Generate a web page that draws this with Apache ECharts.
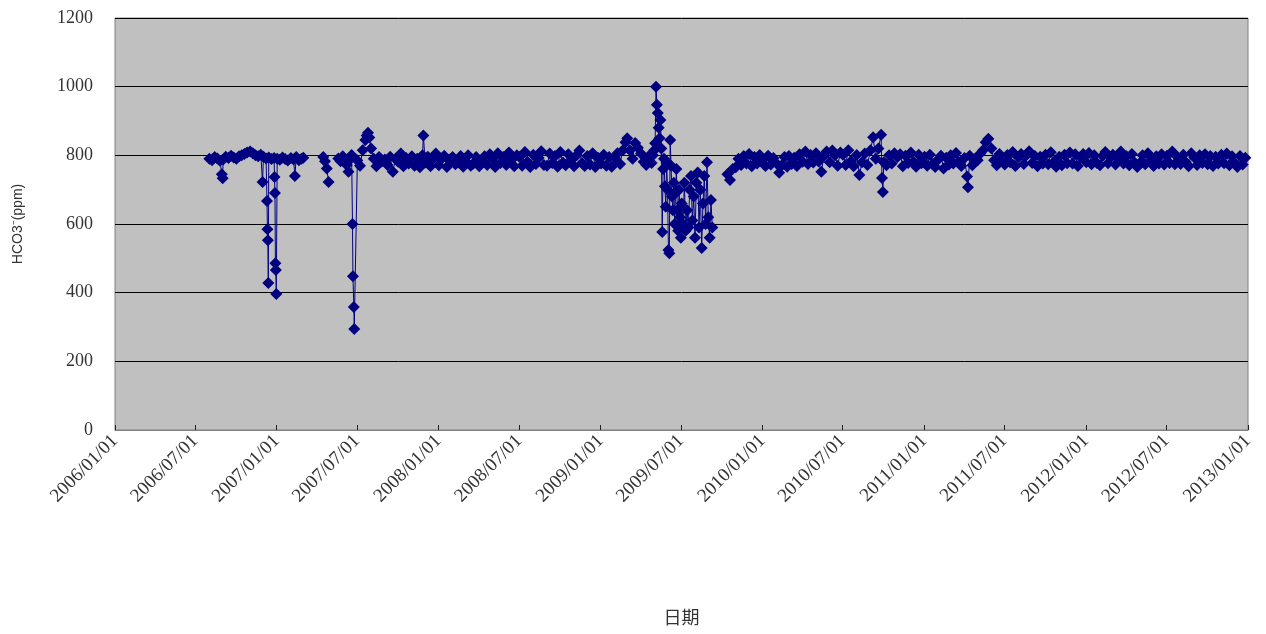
<!DOCTYPE html>
<html>
<head>
<meta charset="utf-8">
<title>HCO3 時序</title>
<script src="https://cdn.jsdelivr.net/npm/echarts@6/dist/echarts.min.js"></script>
<style>
  html, body { margin: 0; padding: 0; background: #ffffff; }
  #chart { width: 1266px; height: 634px; }
</style>
</head>
<body>
<div id="chart"></div>
<script>
// Axis texts
const yAxisTitle = 'HCO3⁻(ppm)';
const xAxisTitle = '日期';
const yTicks = [0, 200, 400, 600, 800, 1000, 1200];
const dateTicks = [
  '2006/01/01', '2006/07/01', '2007/01/01', '2007/07/01', '2008/01/01',
  '2008/07/01', '2009/01/01', '2009/07/01', '2010/01/01', '2010/07/01',
  '2011/01/01', '2011/07/01', '2012/01/01', '2012/07/01', '2013/01/01'
];

// Routine readings: five per month, taken on these days of the month
const sampleDays = [2, 8, 14, 20, 26];

// Routine readings (ppm), one row per month Jan..Dec; null = no routine readings
const hco3_2006 = [
  null, null, null, null, null, null, null,
  [790, 786, 795, 791, 784],
  [788, 796, 792, 799, 794],
  [790, 797, 800, 804, 808],
  [811, 806, 800, 797, 802],
  [796, 791, 794, 789, 792]
];
const hco3_2007 = [
  [790, 787, 794, 789, 785],
  [792, 788, 795, 786, 790],
  null, null, null, null,
  [785, 770, 815, 845, 866],
  [820, 790, 768, 795, 782],
  [788, 772, 796, 752, 790],
  [781, 805, 768, 792, 776],
  [797, 770, 790, 765, 800],
  [779, 796, 768, 789, 805]
];
const hco3_2008 = [
  [771, 790, 799, 766, 788],
  [795, 774, 779, 798, 767],
  [783, 800, 770, 776, 795],
  [768, 779, 797, 772, 803],
  [790, 766, 806, 778, 795],
  [772, 808, 789, 768, 800],
  [795, 770, 810, 781, 766],
  [802, 775, 793, 812, 772],
  [770, 805, 778, 798, 767],
  [810, 779, 771, 803, 786],
  [768, 800, 814, 778, 769],
  [798, 773, 806, 766, 793]
];
const hco3_2009 = [
  [776, 802, 770, 795, 767],
  [792, 806, 775, 815, 838],
  [850, 815, 790, 836, 822],
  [805, 781, 772, 798, 778],
  null, null, null, null, null,
  [null, null, 745, 728, 760],
  [765, 790, 772, 798, 776],
  [804, 768, 795, 776, 801]
];
const hco3_2010 = [
  [788, 769, 799, 773, 792],
  [776, 749, 771, 795, 767],
  [798, 775, 793, 769, 803],
  [781, 811, 775, 801, 779],
  [806, 782, 752, 799, 811],
  [780, 814, 800, 770, 808],
  [802, 772, 815, 783, 768],
  [801, 743, 780, 805, 772],
  [815, 853, 790, 820, 860],
  [780, 771, 800, 776, 806],
  [795, 803, 768, 799, 778],
  [808, 781, 767, 802, 777]
];
const hco3_2011 = [
  [796, 770, 802, 775, 766],
  [788, 799, 762, 793, 773],
  [800, 776, 807, 781, 769],
  [792, 738, 799, 771, 790],
  [786, 805, 815, 838, 848],
  [820, 786, 771, 804, 782],
  [773, 801, 780, 810, 769],
  [795, 804, 775, 800, 812],
  [778, 798, 768, 796, 776],
  [802, 774, 809, 780, 767],
  [796, 771, 802, 777, 808],
  [776, 803, 769, 795, 804]
];
const hco3_2012 = [
  [780, 807, 774, 800, 778],
  [771, 798, 810, 777, 795],
  [802, 773, 794, 811, 776],
  [797, 771, 804, 779, 766],
  [778, 800, 774, 806, 781],
  [769, 797, 776, 803, 773],
  [799, 778, 811, 774, 795],
  [775, 802, 780, 768, 806],
  [794, 772, 800, 778, 803],
  [774, 798, 769, 796, 776],
  [802, 777, 805, 771, 797],
  [778, 766, 798, 773, 793]
];

// Extra readings (drops, peaks, short campaigns); '-' marks a break in the record
const extra2006 = [
  ['2006-08-30', 745], ['2006-09-01', 733], ['2006-11-30', 722],
  ['2006-12-10', 667], ['2006-12-11', 585], ['2006-12-12', 553], ['2006-12-13', 428],
  ['2006-12-27', 737], ['2006-12-28', 690], ['2006-12-29', 486], ['2006-12-30', 466], ['2006-12-31', 396]
];
const extra2007 = [
  ['2007-02-11', 740], ['2007-03-02', 793], ['2007-03-20', '-'],
  ['2007-04-16', 795], ['2007-04-20', 783], ['2007-04-24', 762], ['2007-04-28', 722],
  ['2007-05-08', '-'],
  ['2007-05-20', 791], ['2007-05-25', 783], ['2007-05-30', 797], ['2007-06-04', 786],
  ['2007-06-08', 772], ['2007-06-12', 752], ['2007-06-16', 789], ['2007-06-19', 801],
  ['2007-06-21', 600], ['2007-06-22', 448], ['2007-06-24', 358], ['2007-06-25', 294],
  ['2007-07-23', 858], ['2007-07-29', 852], ['2007-11-28', 858]
];
const extra2009 = [
  ['2009-04-29', 800], ['2009-05-02', 815], ['2009-05-04', 835],
  ['2009-05-06', 1000], ['2009-05-08', 947], ['2009-05-10', 923], ['2009-05-12', 880],
  ['2009-05-14', 850], ['2009-05-16', 903], ['2009-05-18', 820], ['2009-05-20', 577],
  ['2009-05-22', 760], ['2009-05-24', 790], ['2009-05-26', 710], ['2009-05-28', 650],
  ['2009-05-30', 780], ['2009-06-01', 700], ['2009-06-03', 524], ['2009-06-05', 515],
  ['2009-06-07', 845], ['2009-06-09', 770], ['2009-06-11', 680], ['2009-06-13', 640],
  ['2009-06-15', 720], ['2009-06-17', 600], ['2009-06-19', 690], ['2009-06-21', 760],
  ['2009-06-23', 640], ['2009-06-25', 580], ['2009-06-27', 700], ['2009-06-29', 620],
  ['2009-07-01', 560], ['2009-07-03', 660], ['2009-07-06', 600], ['2009-07-09', 720],
  ['2009-07-12', 580], ['2009-07-15', 640], ['2009-07-18', 590], ['2009-07-21', 700],
  ['2009-07-24', 740], ['2009-07-27', 610], ['2009-07-30', 680], ['2009-08-02', 560],
  ['2009-08-05', 720], ['2009-08-08', 750], ['2009-08-11', 590], ['2009-08-14', 700],
  ['2009-08-17', 530], ['2009-08-20', 660], ['2009-08-23', 740], ['2009-08-26', 600],
  ['2009-08-29', 780], ['2009-09-01', 620], ['2009-09-04', 560], ['2009-09-07', 670],
  ['2009-09-10', 590], ['2009-09-25', '-']
];
const extra2010 = [
  ['2010-09-28', 734], ['2010-09-30', 693]
];
const extra2011 = [
  ['2011-04-10', 707]
];

// --- helpers -------------------------------------------------------------
function toTime(str) {
  const p = str.split(/[-\/]/).map(Number);
  return new Date(p[0], p[1] - 1, p[2]).getTime();
}
function pad(n) { return n < 10 ? '0' + n : '' + n; }
function fmtDate(t) {
  const d = new Date(t);
  return d.getFullYear() + '/' + pad(d.getMonth() + 1) + '/' + pad(d.getDate());
}

const routine = [
  [2006, hco3_2006], [2007, hco3_2007], [2008, hco3_2008], [2009, hco3_2009],
  [2010, hco3_2010], [2011, hco3_2011], [2012, hco3_2012]
];
const extras = [].concat(extra2006, extra2007, extra2009, extra2010, extra2011);

const points = [];
routine.forEach(([year, months]) => {
  months.forEach((row, m) => {
    if (!row) return;
    row.forEach((v, i) => {
      if (v === null) return;
      points.push([new Date(year, m, sampleDays[i]).getTime(), v]);
    });
  });
});
extras.forEach(([d, v]) => points.push([toTime(d), v]));
points.sort((a, b) => a[0] - b[0]);

const tickTimes = dateTicks.map(toTime);

// --- chart ---------------------------------------------------------------
const chart = echarts.init(document.getElementById('chart'), null, { renderer: 'canvas' });
chart.setOption({
  animation: false,
  backgroundColor: '#ffffff',
  grid: {
    left: 115, right: 18, top: 18, bottom: 204,
    show: true,
    backgroundColor: '#c0c0c0',
    borderColor: '#808080',
    borderWidth: 1,
    containLabel: false,
    outerBoundsMode: 'none'
  },
  xAxis: {
    // time stamps on a linear axis, ticked at each half year
    type: 'value',
    min: tickTimes[0],
    max: tickTimes[tickTimes.length - 1],
    name: xAxisTitle,
    nameLocation: 'middle',
    nameGap: 178,
    nameTextStyle: { fontFamily: 'Noto Sans CJK TC', fontSize: 18, color: '#333' },
    axisLine: { show: true, lineStyle: { color: '#808080', width: 1 } },
    axisTick: {
      show: true, inside: true, length: 5,
      customValues: tickTimes,
      lineStyle: { color: '#222', width: 1 }
    },
    axisLabel: {
      customValues: tickTimes,
      rotate: 45,
      margin: 8,
      fontFamily: 'Liberation Serif',
      fontSize: 19,
      color: '#333',
      formatter: (v) => fmtDate(v)
    },
    splitLine: { show: false }
  },
  yAxis: {
    type: 'value',
    min: yTicks[0],
    max: yTicks[yTicks.length - 1],
    interval: 200,
    name: yAxisTitle,
    nameLocation: 'middle',
    nameGap: 90,
    nameRotate: 90,
    nameTextStyle: { fontFamily: 'Liberation Sans', fontSize: 14, color: '#333' },
    axisLine: { show: false },
    axisTick: { show: false },
    axisLabel: {
      margin: 22,
      fontFamily: 'Liberation Serif',
      fontSize: 18,
      color: '#333',
      formatter: (v) => String(v)
    },
    splitLine: { show: true, lineStyle: { color: '#000000', width: 1 } }
  },
  series: [{
    type: 'line',
    data: points,
    connectNulls: false,
    showSymbol: true,
    showAllSymbol: true,
    symbol: 'diamond',
    symbolSize: 12,
    itemStyle: { color: '#000080' },
    lineStyle: { color: '#000080', width: 1 }
  }]
});
</script>
</body>
</html>
